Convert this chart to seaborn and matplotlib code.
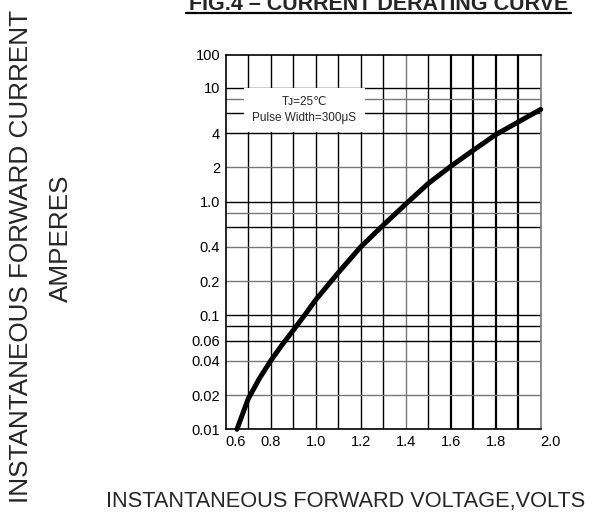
import matplotlib
matplotlib.use('Agg')
import matplotlib.pyplot as plt
import seaborn as sns
import pandas as pd
from matplotlib.lines import Line2D

# кривая: прямое напряжение (В) -> прямой ток (А)
voltage = [0.65, 0.70, 0.75, 0.80, 0.85, 0.90, 0.95, 1.00, 1.10, 1.20, 1.30, 1.40, 1.50, 1.60, 1.70, 1.80, 1.90, 2.00]
current = [0.01, 0.0185, 0.028, 0.04, 0.055, 0.074, 0.10, 0.137, 0.237, 0.40, 0.62, 0.95, 1.44, 2.04, 2.82, 3.87, 5.0, 6.45]

# подписи осей (верх оси подписан "100", хотя по шкале это ~20)
x_ticks = [0.6, 0.8, 1.0, 1.2, 1.4, 1.6, 1.8, 2.0]
x_ticklabels = ['0.6', '0.8', '1.0', '1.2', '1.4', '1.6', '1.8', '2.0']
y_ticks = [0.01, 0.02, 0.04, 0.06, 0.1, 0.2, 0.4, 1.0, 2, 4, 10, 19.5]
y_ticklabels = ['0.01', '0.02', '0.04', '0.06', '0.1', '0.2', '0.4', '1.0', '2', '4', '10', '100']

# линии сетки
x_grid = [0.7, 0.8, 0.9, 1.0, 1.1, 1.2, 1.3, 1.4, 1.5, 1.6, 1.7, 1.8, 1.9]
y_grid = [0.02, 0.04, 0.06, 0.08, 0.1, 0.2, 0.4, 0.6, 0.8, 1, 2, 4, 6, 8, 10]

df = pd.DataFrame({'V': voltage, 'I': current})

sns.set_style('white')
plt.rcParams['font.family'] = ['Liberation Sans', 'DejaVu Sans']

fig = plt.figure(figsize=(5.96, 5.15), dpi=100)
ax = fig.add_axes([225.7 / 596, 1 - 429.3 / 515, 315 / 596, 374.6 / 515])
ax.set_yscale('log')
ax.set_xlim(0.6, 2.0)
ax.set_ylim(0.01, 19.5)

# сетка: часть линий серые, как на скане
gray_x = {1.4}
heavy_x = {1.6, 1.7, 1.8, 1.9}
for v in x_grid:
    c = '#777777' if v in gray_x else 'black'
    lw = 1.6 if v in heavy_x else 1.0
    ax.axvline(v, color=c, lw=lw, zorder=1)
gray_y = {0.02, 0.04, 0.2, 0.4, 0.8, 2, 8}
for v in y_grid:
    c = '#777777' if v in gray_y else 'black'
    ax.axhline(v, color=c, lw=1.0, zorder=1)

sns.lineplot(data=df, x='V', y='I', ax=ax, color='black', linewidth=3.6,
             solid_capstyle='round', solid_joinstyle='round', zorder=4, clip_on=False)

# надпись в белой плашке: J — капительная, ℃ берётся из DejaVu
ax.text(0.95, 6.4, 'T\u1d0a=25\u2103\nPulse Width=300\u03bcS', ha='center', va='center',
        fontsize=8.5, linespacing=1.4, zorder=3,
        bbox=dict(boxstyle='square,pad=0.7', fc='white', ec='none'))

ax.set_xticks(x_ticks)
ax.set_xticklabels(x_ticklabels)
ax.set_yticks(y_ticks)
ax.set_yticklabels(y_ticklabels)
ax.minorticks_off()
ax.tick_params(length=0, pad=4, labelsize=10.5, colors='black')
for lab in ax.get_xticklabels():
    if lab.get_text() in ('0.6', '2.0'):
        lab.set_horizontalalignment('left')
ax.set_xlabel('')
ax.set_ylabel('')

for side in ['left', 'top', 'bottom']:
    ax.spines[side].set_color('black')
    ax.spines[side].set_linewidth(1.2)
ax.spines['right'].set_color('#777777')
ax.spines['right'].set_linewidth(1.2)

# подписи
fig.text(21.5 / 596, 1 - 256 / 515, 'INSTANTANEOUS FORWARD CURRENT', rotation=90,
         ha='center', va='center', fontsize=18.8)
fig.text(60.5 / 596, 1 - 238 / 515, 'AMPERES', rotation=90,
         ha='center', va='center', fontsize=18.8)
fig.text(346 / 596, 1 - 507 / 515, 'INSTANTANEOUS FORWARD VOLTAGE,VOLTS',
         ha='center', va='baseline', fontsize=15.7)

fig.text(378.5 / 596, 1 - 10.5 / 515, 'FIG.4 \u2013 CURRENT DERATING CURVE',
         ha='center', va='baseline', fontsize=15.5, fontweight='bold')
fig.add_artist(Line2D([186 / 596, 571 / 596], [1 - 13 / 515, 1 - 13 / 515], color='black', lw=1.6))

fig.savefig('out.png', dpi=100)
